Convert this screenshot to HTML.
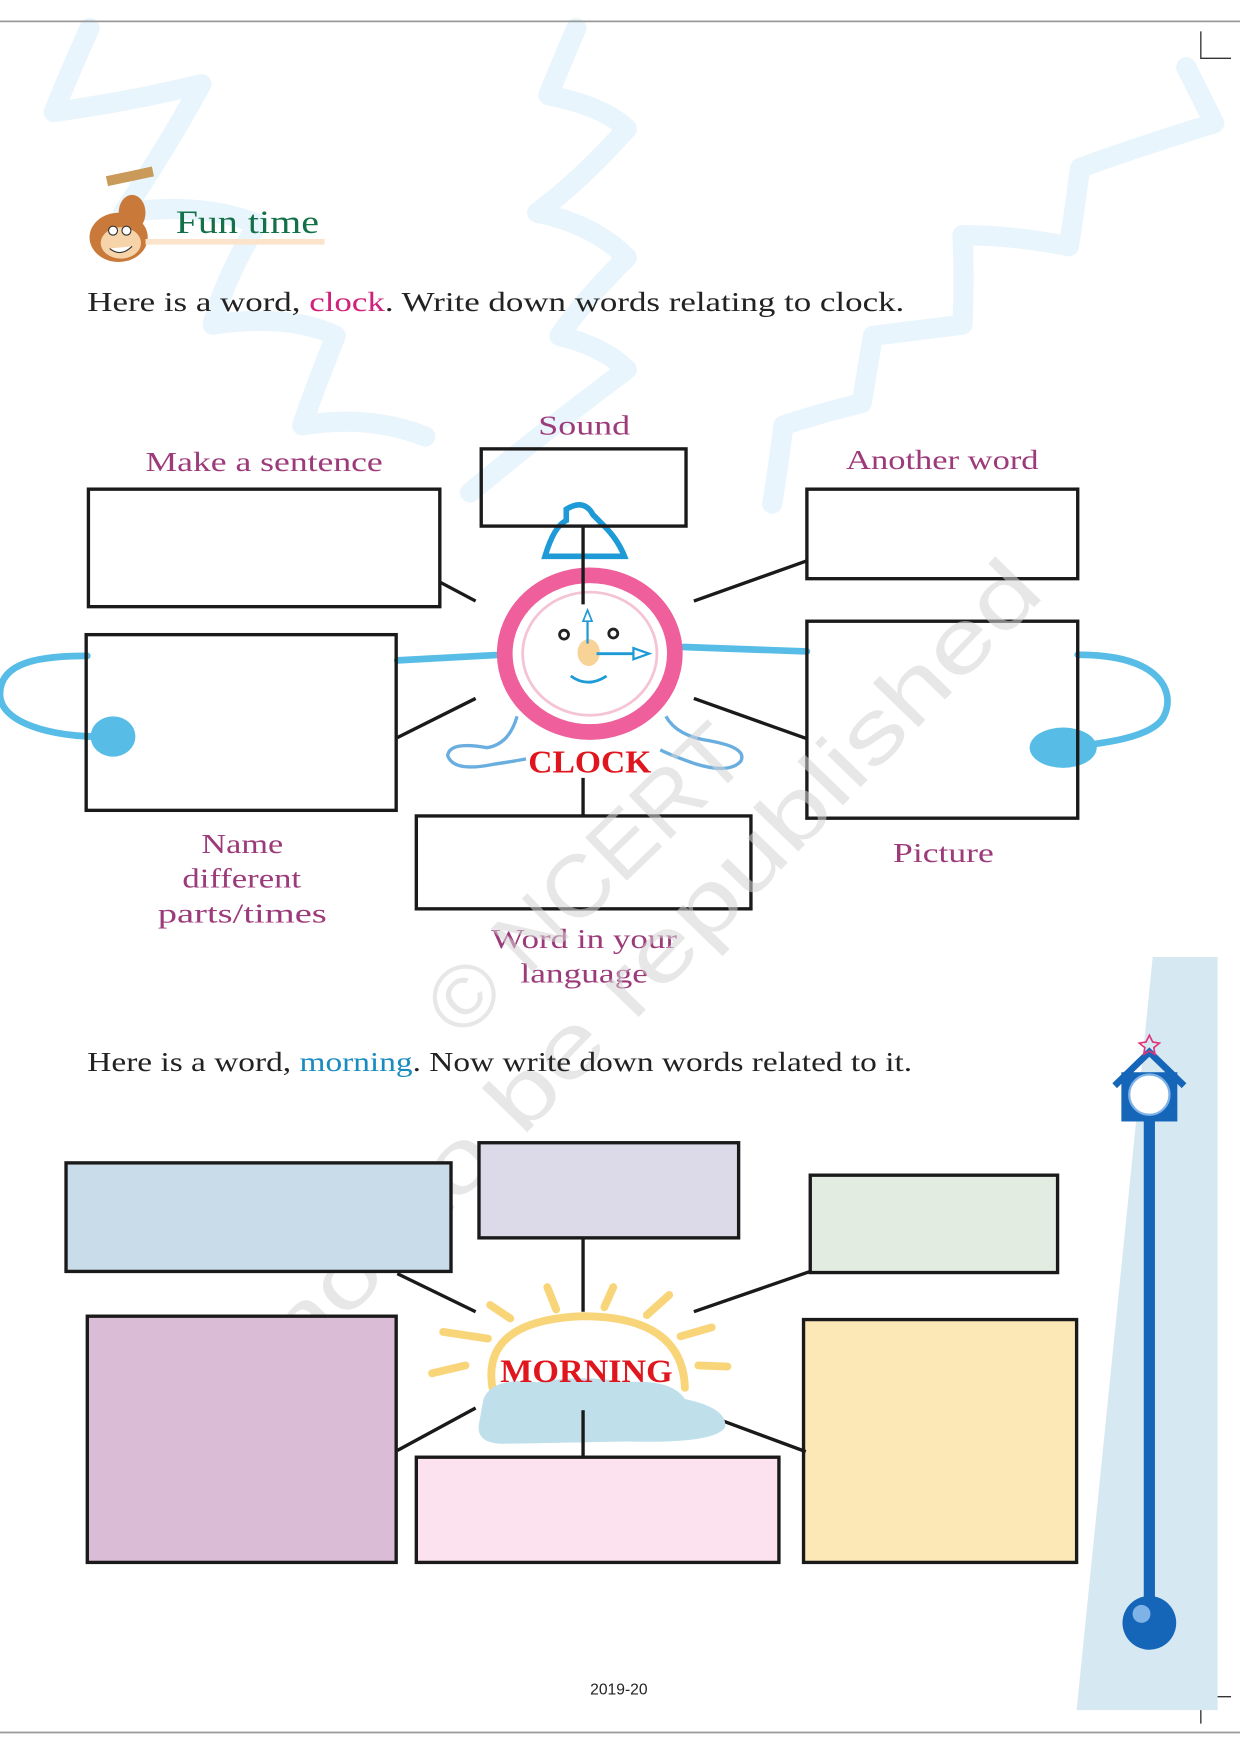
<!DOCTYPE html>
<html><head><meta charset="utf-8"><style>
html,body{margin:0;padding:0;background:#fff}
svg{display:block}
.s{font-family:"Liberation Serif",serif}
.lab{font-family:"Liberation Serif",serif;font-size:25px;fill:#9c3a7a}
</style></head><body>
<svg width="1240" height="1755" viewBox="0 0 1108 1568" xmlns="http://www.w3.org/2000/svg">
<rect width="1108" height="1568" fill="#fff"/>
<!-- background zigzags -->
<g fill="none" stroke="#e8f5fc" stroke-width="18" stroke-linejoin="round" stroke-linecap="round">
<path d="M80 25 Q60 70 48 100 Q120 90 180 75 Q150 130 110 190 Q180 180 230 200 Q200 250 190 290 Q260 280 300 300 Q280 350 270 380 Q330 370 380 390"/>
<path d="M515 25 Q500 60 490 85 Q540 95 560 115 Q520 160 480 190 Q530 200 560 230 Q520 270 500 300 Q540 310 560 330 Q480 390 420 440"/>
<path d="M1060 60 Q1075 90 1085 110 Q1020 130 965 150 Q960 190 955 220 Q905 210 860 210 Q862 250 860 290 Q820 295 780 300 Q775 330 770 360 Q730 370 700 380 Q695 420 690 450"/>
</g>
<!-- borders -->
<line x1="0" y1="19" x2="1108" y2="19" stroke="#999" stroke-width="1.5"/>
<line x1="0" y1="1548" x2="1108" y2="1548" stroke="#999" stroke-width="1.5"/>
<polyline points="1073,28 1073,52 1100,52" fill="none" stroke="#333" stroke-width="1.2"/>
<polyline points="1100,1516 1073,1516 1073,1540" fill="none" stroke="#333" stroke-width="1.2"/>
<!-- monkey -->
<g>
<rect x="95" y="153" width="42" height="9" fill="#c99a5a" transform="rotate(-12 116 157)"/>
<ellipse cx="118" cy="190" rx="12" ry="16" fill="#c97a3a"/>
<ellipse cx="106" cy="212" rx="26" ry="22" fill="#c97a3a"/>
<ellipse cx="108" cy="217" rx="18" ry="14" fill="#f6d3a8"/>
<circle cx="101" cy="206" r="4" fill="#fff" stroke="#333"/>
<circle cx="113" cy="206" r="4" fill="#fff" stroke="#333"/>
<path d="M98 222 Q108 230 118 220" fill="#fff" stroke="#333"/>
</g>
<line x1="130" y1="216" x2="290" y2="216" stroke="#fbe3cc" stroke-width="5"/>
<text x="157" y="208" class="s" font-size="29" fill="#137048" textLength="128" lengthAdjust="spacingAndGlyphs">Fun time</text>
<text x="78" y="278" class="s" font-size="25" fill="#222" textLength="730" lengthAdjust="spacingAndGlyphs">Here is a word, <tspan fill="#d0207a">clock</tspan>. Write down words relating to clock.</text>
<!-- labels -->
<text x="481" y="388" class="lab" textLength="82" lengthAdjust="spacingAndGlyphs">Sound</text>
<text x="130" y="421" class="lab" textLength="212" lengthAdjust="spacingAndGlyphs">Make a sentence</text>
<text x="756" y="419" class="lab" textLength="172" lengthAdjust="spacingAndGlyphs">Another word</text>
<text x="180" y="762" class="lab" textLength="73" lengthAdjust="spacingAndGlyphs">Name</text>
<text x="163" y="793" class="lab" textLength="106" lengthAdjust="spacingAndGlyphs">different</text>
<text x="141" y="824" class="lab" textLength="151" lengthAdjust="spacingAndGlyphs">parts/times</text>
<text x="798" y="770" class="lab" textLength="90" lengthAdjust="spacingAndGlyphs">Picture</text>
<text x="439" y="847" class="lab" textLength="166" lengthAdjust="spacingAndGlyphs">Word in your</text>
<text x="465" y="878" class="lab" textLength="114" lengthAdjust="spacingAndGlyphs">language</text>
<!-- cords -->
<g fill="none" stroke="#58bde6" stroke-width="6" stroke-linecap="round">
<path d="M355 590 L447 585"/>
<path d="M78 586 C40 586 0 590 0 620 C0 650 60 660 100 658"/>
<path d="M611 578 L721 582"/>
<path d="M963 585 C1040 585 1050 620 1040 640 C1030 660 980 665 950 668"/>
</g>
<ellipse cx="101" cy="658" rx="20" ry="18" fill="#58bde6"/>
<ellipse cx="950" cy="668" rx="30" ry="18" fill="#58bde6"/>
<!-- clock -->
<path d="M487 497 Q495 470 506 465 L506 455 Q522 445 530 460 L540 470 Q552 482 558 497 Z" fill="none" stroke="#1e9ad6" stroke-width="5"/>
<path d="M462 640 Q455 665 435 668 Q402 662 400 675 Q405 690 440 683 Q460 680 470 678" fill="none" stroke="#6aaee0" stroke-width="3"/>
<path d="M595 640 Q605 658 635 662 Q668 668 662 680 Q652 692 620 682 Q600 675 590 670" fill="none" stroke="#6aaee0" stroke-width="3"/>
<ellipse cx="527" cy="584" rx="76" ry="70" fill="#fff" stroke="#ee5f9b" stroke-width="14"/>
<ellipse cx="527" cy="584" rx="60" ry="55" fill="none" stroke="#f4c4d6" stroke-width="2.5"/>
<circle cx="504" cy="567" r="4" fill="#fff" stroke="#222" stroke-width="2.5"/>
<circle cx="548" cy="566" r="4" fill="#fff" stroke="#222" stroke-width="2.5"/>
<ellipse cx="526" cy="583" rx="10" ry="12" fill="#f8d398"/>
<line x1="525" y1="575" x2="525" y2="550" stroke="#1e9ad6" stroke-width="2"/>
<path d="M521 555 L525 545 L529 555 Z" fill="#fff" stroke="#1e9ad6" stroke-width="1.5"/>
<line x1="533" y1="584" x2="568" y2="584" stroke="#1e9ad6" stroke-width="2.5"/>
<path d="M566 579 L580 584 L566 589 Z" fill="#fff" stroke="#1e9ad6" stroke-width="2"/>
<path d="M510 604 Q525 615 542 604" fill="none" stroke="#1e9ad6" stroke-width="2.5"/>
<text x="472" y="690" class="s" font-size="28" font-weight="bold" fill="#e0161e" textLength="110" lengthAdjust="spacingAndGlyphs">CLOCK</text>
<!-- clock boxes -->
<g fill="none" stroke="#1a1a1a" stroke-width="3">
<rect x="79" y="437" width="314" height="105"/>
<rect x="430" y="401" width="183" height="69"/>
<rect x="721" y="437" width="242" height="80"/>
<rect x="77" y="567" width="277" height="157"/>
<rect x="721" y="555" width="242" height="176"/>
<rect x="372" y="729" width="299" height="83"/>
<line x1="393" y1="520" x2="425" y2="537"/>
<line x1="521" y1="470" x2="521" y2="540"/>
<line x1="620" y1="537" x2="721" y2="501"/>
<line x1="355" y1="659" x2="425" y2="624"/>
<line x1="620" y1="624" x2="721" y2="660"/>
<line x1="521" y1="695" x2="521" y2="729"/>
</g>
<!-- watermark -->
<g fill="#d4d4d4" opacity="0.55" font-family="Liberation Sans,sans-serif" font-size="78">
<text transform="translate(412,930) rotate(-44)" textLength="360" lengthAdjust="spacingAndGlyphs">© NCERT</text>
<text transform="translate(268,1222) rotate(-46)" textLength="960" lengthAdjust="spacingAndGlyphs">not to be republished</text>
</g>
<text x="78" y="957" class="s" font-size="25" fill="#222" textLength="737" lengthAdjust="spacingAndGlyphs">Here is a word, <tspan fill="#1a8bc0">morning</tspan>. Now write down words related to it.</text>
<!-- right strip -->
<polygon points="1030,855 1088,855 1088,1528 962,1528" fill="#d6e8f1"/>
<rect x="1022" y="995" width="10" height="450" fill="#1565b8"/>
<circle cx="1027" cy="1450" r="24" fill="#1565b8"/>
<circle cx="1020" cy="1442" r="8" fill="#7fb2e6"/>
<path d="M996 970 L1027 940 L1058 970" fill="none" stroke="#1565b8" stroke-width="6"/>
<rect x="1002" y="958" width="50" height="44" fill="#1565b8"/>
<circle cx="1027" cy="978" r="18" fill="#fff" stroke="#7fb2e6" stroke-width="2"/>
<path d="M1027 925 l3 6 6 1 -5 4 1 6 -5 -3 -5 3 1 -6 -5 -4 6 -1z" fill="none" stroke="#e0357a" stroke-width="1.5"/>
<!-- morning boxes -->
<g stroke="#1a1a1a" stroke-width="3">
<rect x="59" y="1039" width="344" height="97" fill="#c9dcea"/>
<rect x="428" y="1021" width="232" height="85" fill="#dcd9e8"/>
<rect x="724" y="1050" width="221" height="87" fill="#e2ece1"/>
<rect x="78" y="1176" width="276" height="220" fill="#dbbcd6"/>
<rect x="372" y="1302" width="324" height="94" fill="#fce1ee"/>
<rect x="718" y="1179" width="244" height="217" fill="#fce7b7"/>
<line x1="355" y1="1138" x2="425" y2="1172"/>
<line x1="521" y1="1106" x2="521" y2="1172"/>
<line x1="620" y1="1172" x2="724" y2="1136"/>
<line x1="355" y1="1296" x2="425" y2="1258"/>
<line x1="620" y1="1260" x2="720" y2="1297"/>
</g>
<!-- sun -->
<g stroke="#f9d57a" stroke-width="7" stroke-linecap="round" fill="none">
<path d="M440 1240 Q430 1180 520 1176 Q610 1176 612 1240"/>
<line x1="489" y1="1150" x2="497" y2="1170"/>
<line x1="548" y1="1150" x2="540" y2="1168"/>
<line x1="438" y1="1166" x2="456" y2="1178"/>
<line x1="598" y1="1157" x2="578" y2="1175"/>
<line x1="396" y1="1190" x2="436" y2="1196"/>
<line x1="608" y1="1194" x2="636" y2="1186"/>
<line x1="386" y1="1227" x2="416" y2="1220"/>
<line x1="624" y1="1220" x2="650" y2="1221"/>
</g>
<path d="M432 1250 Q440 1230 480 1235 Q520 1228 560 1235 Q600 1232 612 1250 Q650 1258 648 1275 Q640 1290 560 1288 L450 1290 Q425 1290 428 1272 Z" fill="#bfe0ea"/>
<line x1="521" y1="1260" x2="521" y2="1302" stroke="#1a1a1a" stroke-width="3"/>
<text x="447" y="1235" class="s" font-size="29" font-weight="bold" fill="#e0161e" textLength="154" lengthAdjust="spacingAndGlyphs">MORNING</text>
<text x="553" y="1514" font-family="Liberation Sans,sans-serif" font-size="14" fill="#222" text-anchor="middle">2019-20</text>
</svg>
</body></html>
